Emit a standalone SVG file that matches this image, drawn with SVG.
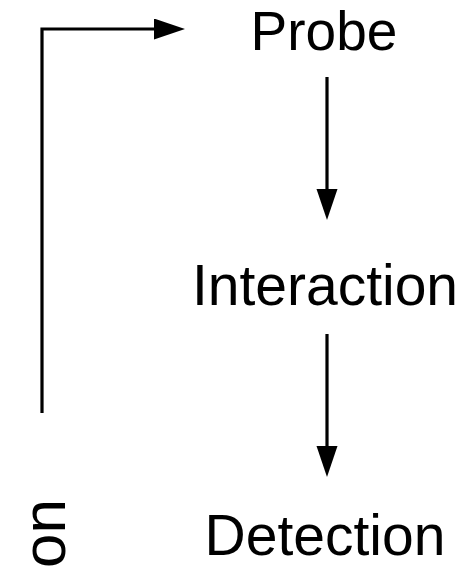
<svg xmlns="http://www.w3.org/2000/svg" width="465" height="568" viewBox="0 0 465 568">
<style>
.lbl{font-family:"Liberation Sans",Arial,sans-serif;font-size:57px;fill:#000}
.conn{fill:none;stroke:#000;stroke-width:3.2}
</style>
<defs>
<marker id="ah" markerUnits="userSpaceOnUse" markerWidth="32" markerHeight="22" refX="0" refY="10.5" orient="auto" viewBox="0 0 32 22">
<path d="M0,0 L31,10.5 L0,21 z" fill="#000"/>
</marker>
</defs>
<rect width="465" height="568" fill="#fff"/>
<g id="connectors">
<path class="conn" d="M42,413 V29 H154" marker-end="url(#ah)"/>
<path class="conn" d="M327,77 V189" marker-end="url(#ah)"/>
<path class="conn" d="M327,334 V446" marker-end="url(#ah)"/>
</g>
<g id="probe"><text class="lbl" x="324" y="50" text-anchor="middle" style="font-size:55px">Probe</text></g>
<g id="interaction"><text class="lbl" x="325" y="305" text-anchor="middle">Interaction</text></g>
<g id="detection"><text class="lbl" x="325" y="555" text-anchor="middle">Detection</text></g>
<g id="side"><text class="lbl" transform="translate(65,499) rotate(-90)" x="0" y="0" text-anchor="end" style="font-size:62px">on</text></g>
</svg>
